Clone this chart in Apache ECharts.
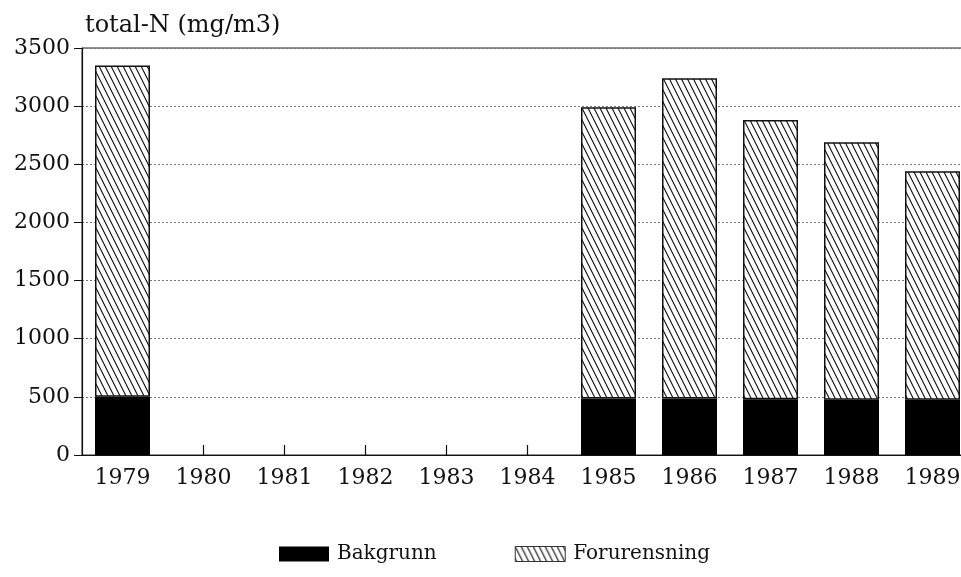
<!DOCTYPE html>
<html>
<head>
<meta charset="utf-8">
<script src="https://cdn.jsdelivr.net/npm/echarts@6/dist/echarts.min.js"></script>
<style>
    html, body { margin: 0; padding: 0; background: #fff; }
    #chart { width: 961px; height: 577px; }
</style>
</head>
<body>
<div id="chart"></div>
<script>
var years = ['1979', '1980', '1981', '1982', '1983', '1984', '1985', '1986', '1987', '1988', '1989'];
// bakgrunn = lower black part, forurensning = hatched part on top
var bakgrunn = [500, null, null, null, null, null, 485, 485, 480, 475, 475];
var forurensning = [2850, null, null, null, null, null, 2505, 2755, 2400, 2215, 1965];

var fontFam = 'DejaVu Serif';

// diagonal hatch (\\\) tile
function hatch() {
    var c = document.createElement('canvas');
    c.width = 6;
    c.height = 12;
    var ctx = c.getContext('2d');
    ctx.fillStyle = '#fff';
    ctx.fillRect(0, 0, 6, 12);
    ctx.strokeStyle = '#111';
    ctx.lineWidth = 1.1;
    ctx.beginPath();
    ctx.moveTo(-1, -2); ctx.lineTo(7, 14);
    ctx.moveTo(-7, -2); ctx.lineTo(1, 14);
    ctx.moveTo(5, -2); ctx.lineTo(13, 14);
    ctx.stroke();
    return c;
}
var hatchImg = hatch();

var myChart = echarts.init(document.getElementById('chart'));
var option = {
    animation: false,
    backgroundColor: '#fff',
    title: {
        text: 'total-N (mg/m3)',
        left: 80,
        top: 9,
        textStyle: { fontFamily: fontFam, fontSize: 24, fontWeight: 'normal', color: '#111' }
    },
    grid: {
        left: 82,
        width: 891,
        top: 48,
        bottom: 122,
        outerBoundsMode: 'none',
        containLabel: false,
        show: true,
        borderColor: '#222',
        borderWidth: 1
    },
    legend: {
        bottom: 8,
        left: 274,
        itemWidth: 50,
        itemHeight: 15,
        itemGap: 78,
        icon: 'rect',
        textStyle: { fontFamily: fontFam, fontSize: 20, color: '#111', padding: [0, 0, 0, 3] },
        data: [
            { name: 'Bakgrunn', itemStyle: { color: '#000', borderWidth: 0 } },
            { name: 'Forurensning', itemStyle: { color: { image: hatchImg, repeat: 'repeat' }, borderColor: '#333', borderWidth: 1 } }
        ]
    },
    xAxis: {
        type: 'category',
        data: years,
        axisLine: { lineStyle: { color: '#111', width: 1.2 } },
        axisTick: { show: true, alignWithLabel: true, inside: true, length: 10, lineStyle: { color: '#111', width: 1.2 } },
        axisLabel: { fontFamily: fontFam, fontSize: 22, color: '#111', margin: 12 }
    },
    yAxis: {
        type: 'value',
        min: 0,
        max: 3500,
        interval: 500,
        axisLine: { show: true, lineStyle: { color: '#111', width: 1.2 } },
        axisTick: { show: true, length: 8, lineStyle: { color: '#111' } },
        axisLabel: {
            fontFamily: fontFam, fontSize: 22, color: '#111', margin: 12,
            formatter: function (v) { return String(v); }
        },
        splitLine: { show: true, lineStyle: { color: '#777', type: [2, 2], width: 1 } }
    },
    series: [
        {
            name: 'Bakgrunn',
            type: 'bar',
            stack: 'n',
            barWidth: 55,
            itemStyle: { color: '#000' },
            data: bakgrunn
        },
        {
            name: 'Forurensning',
            type: 'bar',
            stack: 'n',
            barWidth: 55,
            itemStyle: { color: { image: hatchImg, repeat: 'repeat' }, borderColor: '#111', borderWidth: 1.5 },
            data: forurensning
        }
    ]
};
myChart.setOption(option);
</script>
</body>
</html>
